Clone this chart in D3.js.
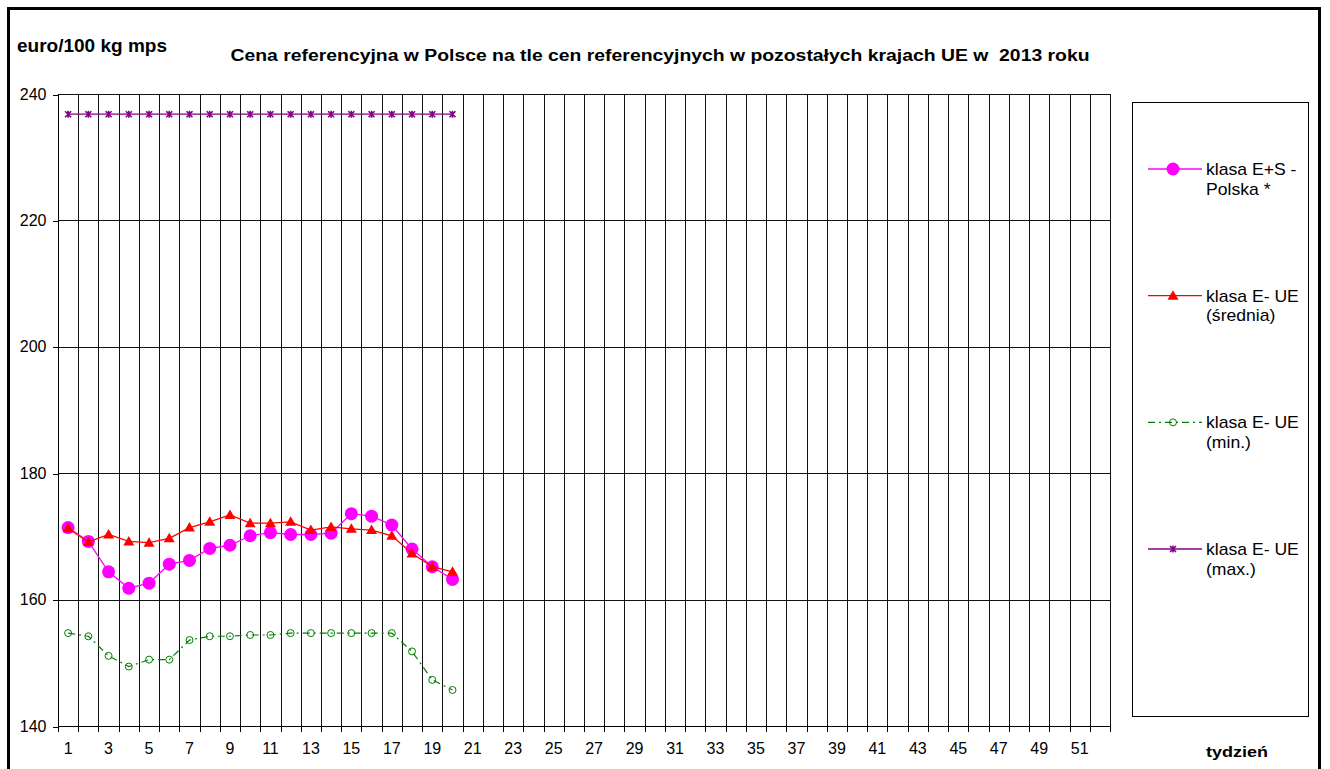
<!DOCTYPE html>
<html>
<head>
<meta charset="utf-8">
<title></title>
<style>
	body{ margin:0; background:#fff; }
	svg{ display:block; font-family:"Liberation Sans", Arial, sans-serif; }
	.grid line{ stroke:#111; stroke-width:1; shape-rendering:crispEdges; }
	.axis path, .axis line{ stroke:#000; shape-rendering:crispEdges; }
	.axis text{ font-size:16px; fill:#000; font-family:"Liberation Sans", Arial, sans-serif; }
</style>
</head>
<body>
<svg width="1330" height="769"></svg>
<script src="https://d3js.org/d3.v7.min.js"></script>
<script type="text/javascript">

	// tygodnie 1..52
	var weeks = d3.range(1, 53);
	var yTicks = [140, 160, 180, 200, 220, 240];

	// klasa E+S - Polska *
	var polska = [171.4, 169.2, 164.4, 161.8, 162.6, 165.6, 166.2, 168.1, 168.6, 170.1,
	              170.6, 170.3, 170.3, 170.5, 173.6, 173.2, 171.8, 168.0, 165.2, 163.2];
	// klasa E- UE (srednia)
	var ueSrednia = [171.3, 169.1, 170.3, 169.2, 169.0, 169.7, 171.4, 172.3, 173.4, 172.1,
	                 172.1, 172.3, 171.0, 171.5, 171.2, 171.0, 170.1, 167.3, 165.2, 164.4];
	// klasa E- UE (min.)
	var ueMin = [154.7, 154.2, 151.1, 149.4, 150.5, 150.5, 153.6, 154.2, 154.2, 154.4,
	             154.4, 154.7, 154.7, 154.7, 154.7, 154.7, 154.7, 151.8, 147.3, 145.7];
	// klasa E- UE (max.)
	var ueMax = [236.8, 236.8, 236.8, 236.8, 236.8, 236.8, 236.8, 236.8, 236.8, 236.8,
	             236.8, 236.8, 236.8, 236.8, 236.8, 236.8, 236.8, 236.8, 236.8, 236.8];

	var series = [
		{name:["klasa E+S -", "Polska *"], values:polska, color:"#ff00ff", marker:"bigcircle", dash:null},
		{name:["klasa E- UE", "(średnia)"], values:ueSrednia, color:"#ff0000", marker:"triangle", dash:null},
		{name:["klasa E- UE", "(min.)"], values:ueMin, color:"#008000", marker:"opencircle", dash:"7,4,2,4"},
		{name:["klasa E- UE", "(max.)"], values:ueMax, color:"#800080", marker:"star", dash:null}
	];

	var svg = d3.select("svg");

	var plotLeft = 58, plotRight = 1110, plotTop = 94, plotBottom = 726;

	var x = d3.scaleBand().domain(weeks).range([plotLeft, plotRight]);
	var y = d3.scaleLinear().domain([140, 240]).range([plotBottom, plotTop]);

	function hstretch(sel, k){
		sel.each(function(){
			var t = d3.select(this);
			var tx = +t.attr("x") || 0, ty = +t.attr("y") || 0;
			t.attr("x", 0).attr("y", 0)
			 .attr("transform", "translate(" + tx + "," + ty + ") scale(" + k + ",1)");
		});
	}

	// outer frame
	svg.append("rect")
		.attr("x", 8.5).attr("y", 8.5)
		.attr("width", 1311).attr("height", 820)
		.attr("fill", "none").attr("stroke", "#000").attr("stroke-width", 3);

	// gridlines
	var grid = svg.append("g").attr("class", "grid");
	grid.selectAll(".h").data(yTicks).enter().append("line")
		.attr("x1", plotLeft).attr("x2", plotRight)
		.attr("y1", function(d){ return Math.round(y(d)) + 0.5; })
		.attr("y2", function(d){ return Math.round(y(d)) + 0.5; });
	var bounds = weeks.map(function(d){ return x(d); }).concat([plotRight]);
	grid.selectAll(".v").data(bounds).enter().append("line")
		.attr("x1", function(d){ return Math.round(d) + 0.5; })
		.attr("x2", function(d){ return Math.round(d) + 0.5; })
		.attr("y1", plotTop).attr("y2", plotBottom);

	// y axis
	var yAxis = svg.append("g").attr("class", "axis")
		.attr("transform", "translate(" + (plotLeft + 0.5) + ",0)")
		.call(d3.axisLeft(y).tickValues(yTicks).tickSize(6).tickPadding(6).tickFormat(d3.format("d")));
	yAxis.select(".domain").attr("d", "M0," + plotTop + "V" + plotBottom);
	yAxis.selectAll(".tick line").attr("transform", "translate(0,0.5)");

	// x axis: labels on odd weeks, ticks on category boundaries
	var xAxis = svg.append("g").attr("class", "axis")
		.attr("transform", "translate(0," + (plotBottom + 0.5) + ")")
		.call(d3.axisBottom(x).tickSize(0).tickPadding(16)
			.tickFormat(function(d){ return d % 2 === 1 ? d : ""; }));
	xAxis.select(".domain").attr("d", "M" + plotLeft + ",0H" + plotRight);
	xAxis.selectAll(".bt").data(bounds).enter().append("line")
		.attr("class", "bt")
		.attr("x1", function(d){ return Math.round(d) + 0.5; })
		.attr("x2", function(d){ return Math.round(d) + 0.5; })
		.attr("y1", -3).attr("y2", 5)
		.attr("stroke", "#000");

	// markers
	function drawMarker(g, type, color){
		if(type === "bigcircle"){
			g.append("circle").attr("r", 6.5).attr("fill", color);
		} else if(type === "triangle"){
			g.append("path").attr("d", "M0,-5.5L5.5,4L-5.5,4Z").attr("fill", color);
		} else if(type === "opencircle"){
			g.append("circle").attr("r", 3.5).attr("fill", "none").attr("stroke", color).attr("stroke-width", 1);
		} else if(type === "star"){
			g.append("path").attr("d", "M-3,-3L3,3M-3,3L3,-3M0,-3.5V3.5")
				.attr("stroke", color).attr("stroke-width", 1.6).attr("fill", "none");
		}
	}

	var line = d3.line()
		.x(function(d, i){ return x(weeks[i]) + x.bandwidth() / 2; })
		.y(function(d){ return y(d); });

	var plot = svg.append("g");
	series.forEach(function(s){
		var g = plot.append("g");
		g.append("path")
			.attr("d", line(s.values))
			.attr("fill", "none")
			.attr("stroke", s.color)
			.attr("stroke-width", s.marker === "opencircle" ? 1.2 : 1.3)
			.attr("stroke-dasharray", s.dash);
		s.values.forEach(function(v, i){
			var m = g.append("g")
				.attr("transform", "translate(" + (x(weeks[i]) + x.bandwidth() / 2) + "," + y(v) + ")");
			drawMarker(m, s.marker, s.color);
		});
	});

	// legend
	var legend = svg.append("g");
	legend.append("rect")
		.attr("x", 1132.5).attr("y", 102.5)
		.attr("width", 176).attr("height", 614)
		.attr("fill", "#fff").attr("stroke", "#000").attr("stroke-width", 1);
	var legendY = d3.scalePoint().domain(d3.range(series.length)).range([169, 549]);
	series.forEach(function(s, i){
		var ly = legendY(i);
		var item = legend.append("g");
		item.append("line")
			.attr("x1", 1148).attr("x2", 1202)
			.attr("y1", ly).attr("y2", ly)
			.attr("stroke", s.color).attr("stroke-width", 1.3)
			.attr("stroke-dasharray", s.dash);
		drawMarker(item.append("g").attr("transform", "translate(1173," + ly + ")"), s.marker, s.color);
		var t = item.selectAll("text").data(s.name).enter().append("text")
			.attr("x", 1206)
			.attr("y", function(d, j){ return ly + 6 + j * 19.5; })
			.attr("font-size", "16px")
			.text(function(d){ return d; });
		hstretch(t, 1.1);
	});

	// titles
	svg.append("text")
		.attr("x", 17).attr("y", 52)
		.attr("font-size", "19px").attr("font-weight", "bold")
		.text("euro/100 kg mps");

	var title = svg.append("text")
		.attr("x", 660).attr("y", 61)
		.attr("text-anchor", "middle")
		.attr("font-size", "17px").attr("font-weight", "bold")
		.style("white-space", "pre")
		.text("Cena referencyjna w Polsce na tle cen referencyjnych w pozostałych krajach UE w  2013 roku");
	hstretch(title, 1.14);

	var xl = svg.append("text")
		.attr("x", 1206).attr("y", 757)
		.attr("font-size", "15px").attr("font-weight", "bold")
		.text("tydzień");
	hstretch(xl, 1.2);

</script>
</body>
</html>
